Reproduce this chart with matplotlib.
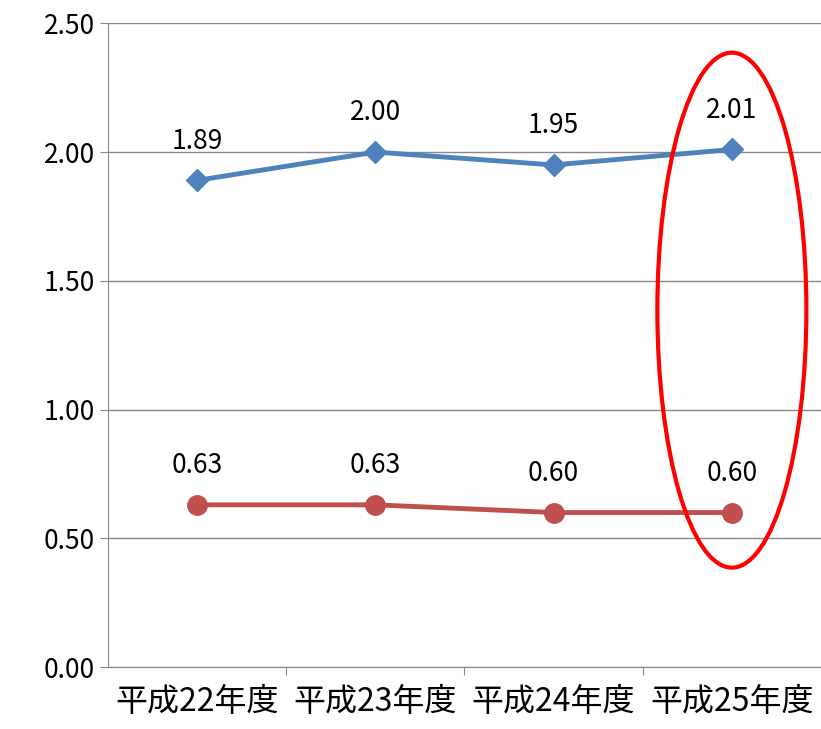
import matplotlib.pyplot as plt
from matplotlib.patches import Ellipse

plt.rcParams['font.family'] = ['Noto Sans CJK JP', 'DejaVu Sans']

categories = ['平成22年度', '平成23年度', '平成24年度', '平成25年度']
blue_vals = [1.89, 2.00, 1.95, 2.01]
red_vals = [0.63, 0.63, 0.60, 0.60]

fig = plt.figure(figsize=(8.21, 7.29), dpi=100)
ax = fig.add_axes([0.1315, 0.085, 0.8685, 0.883])
x = range(len(categories))

ax.plot(x, blue_vals, color='#4F81BD', lw=3.5, marker='D', ms=11, zorder=3)
ax.plot(x, red_vals, color='#C0504D', lw=3.5, marker='o', ms=14, zorder=3)
for i, v in enumerate(blue_vals):
    ax.text(i, v + 0.1, f'{v:.2f}', ha='center', va='bottom', fontsize=19)
for i, v in enumerate(red_vals):
    ax.text(i, v + 0.1, f'{v:.2f}', ha='center', va='bottom', fontsize=19)

ax.add_patch(Ellipse((3, 1.386), 0.836, 2.0, fill=False, edgecolor='red', lw=3, zorder=4))

ax.set_xlim(-0.5, 3.5)
ax.set_ylim(0, 2.5)
ax.set_yticks([0, 0.5, 1.0, 1.5, 2.0, 2.5])
ax.set_yticklabels([f'{t:.2f}' for t in [0, 0.5, 1.0, 1.5, 2.0, 2.5]], fontsize=19)
ax.set_xticks([0.5, 1.5, 2.5])
ax.set_xticklabels([])
ax.set_xticks(list(x), minor=True)
ax.set_xticklabels(categories, minor=True, fontsize=23)
ax.tick_params(axis='x', which='minor', length=0, pad=14)
ax.tick_params(axis='x', which='major', length=6, color='#888888')
ax.tick_params(axis='y', length=6, color='#888888')
ax.yaxis.grid(True, color='#888888', lw=1)
ax.set_axisbelow(True)
for s in ['top', 'right']:
    ax.spines[s].set_visible(False)
for s in ['left', 'bottom']:
    ax.spines[s].set_color('#888888')

fig.savefig('out.png', dpi=100)
